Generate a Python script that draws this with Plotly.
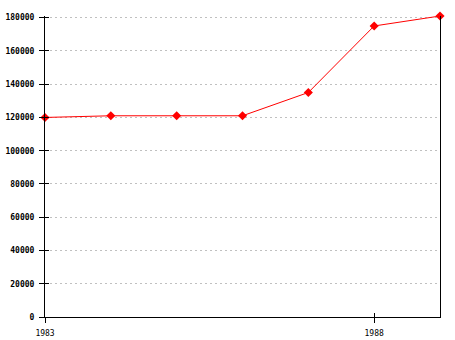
import plotly.graph_objects as go

years = [1983, 1984, 1985, 1986, 1987, 1988, 1989]
values = [120000, 121000, 121000, 121000, 135000, 175000, 181000]
xtick_vals = [1983, 1988]
xtick_text = ["1983", "1988"]
ytick_vals = [0, 20000, 40000, 60000, 80000, 100000, 120000, 140000, 160000, 180000]
ytick_text = [str(v) for v in ytick_vals]

font = dict(family="DejaVu Sans Mono", size=8, color="black", weight="bold")
xfont = dict(family="DejaVu Sans Mono", size=8, color="black", weight="normal")

fig = go.Figure()
fig.add_trace(go.Scatter(
    x=years, y=values, mode="lines+markers",
    line=dict(color="red", width=1),
    marker=dict(symbol="diamond", size=7, color="red"),
    cliponaxis=False, showlegend=False,
))
fig.add_trace(go.Scatter(x=years, y=values, xaxis="x2", yaxis="y2",
                         mode="markers", marker=dict(opacity=0), showlegend=False,
                         hoverinfo="skip"))
fig.add_trace(go.Scatter(x=years, y=values, xaxis="x3", yaxis="y3",
                         mode="markers", marker=dict(opacity=0), showlegend=False,
                         hoverinfo="skip"))

fig.update_layout(
    width=455, height=340,
    margin=dict(l=45, r=15, t=16, b=23, autoexpand=False),
    paper_bgcolor="white", plot_bgcolor="white",
    font=font,
    xaxis=dict(range=[1983, 1989], tickvals=xtick_vals, ticktext=xtick_text,
               ticks="outside", ticklen=5, tickcolor="black", tickwidth=1,
               showline=True, linecolor="black", linewidth=1, mirror=False,
               showgrid=False, zeroline=False, tickfont=xfont, automargin=False,
               ticklabelstandoff=3),
    yaxis=dict(range=[0, 181000], tickvals=ytick_vals, ticktext=ytick_text,
               ticks="outside", ticklen=5, tickcolor="black", tickwidth=1,
               showline=True, linecolor="black", linewidth=1,
               showgrid=True, gridcolor="#c0c0c0", griddash="2px,3px", gridwidth=1,
               zeroline=False, tickfont=font, ticklabelstandoff=3, automargin=False),
    xaxis2=dict(range=[1983, 1989], tickvals=xtick_vals, overlaying="x",
                ticks="inside", ticklen=4, tickcolor="black", showticklabels=False,
                showgrid=False, zeroline=False, showline=False, automargin=False),
    yaxis2=dict(range=[0, 181000], tickvals=ytick_vals, overlaying="y", side="right",
                ticks="", showticklabels=False, showline=True, linecolor="black",
                linewidth=1, showgrid=False, zeroline=False, automargin=False),
    xaxis3=dict(range=[1983, 1989], overlaying="x", visible=False),
    yaxis3=dict(range=[0, 181000], tickvals=ytick_vals, overlaying="y", side="left",
                ticks="inside", ticklen=4, tickcolor="black", showticklabels=False,
                showgrid=False, zeroline=False, showline=False, automargin=False),
)
fig.write_html("out.html")
